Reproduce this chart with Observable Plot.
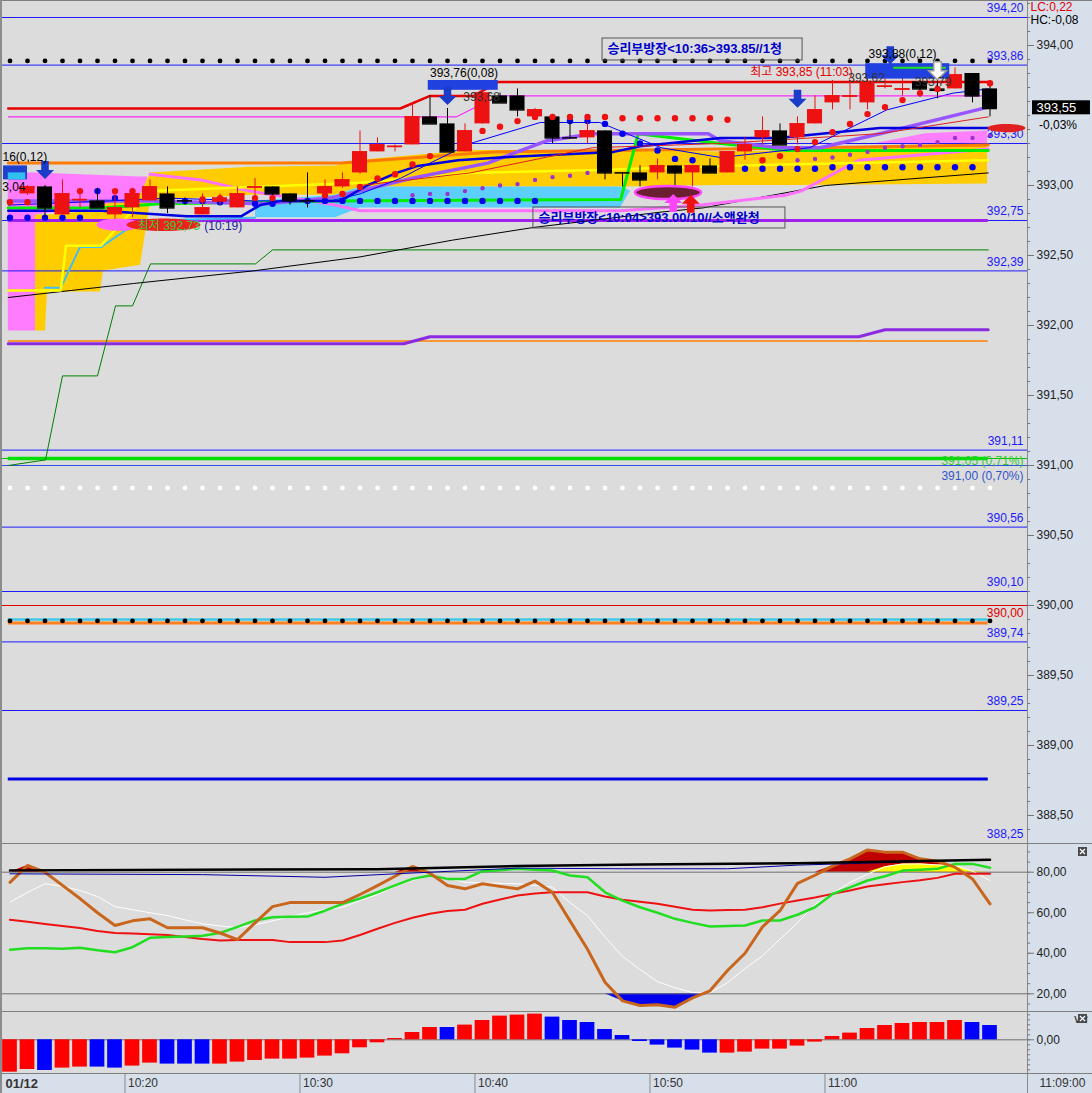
<!DOCTYPE html>
<html>
<head>
<meta charset="utf-8">
<script src="https://cdn.jsdelivr.net/npm/d3@7"></script>
<script src="https://cdn.jsdelivr.net/npm/@observablehq/plot@0.6"></script>
<style>
html,body{margin:0;padding:0;background:#dcdcdc;}
#wrap{position:relative;width:1092px;height:1093px;overflow:hidden;
 background:linear-gradient(to right,#dcdcdc 0px,#dcdcdc 1027px,#d7dfeb 1027px,#d7dfeb 1092px);
 font-family:"Liberation Sans","Noto Sans CJK KR",sans-serif;}
.panel{position:absolute;left:0;}
.hsep{position:absolute;left:0;width:1092px;height:1px;background:#7f7f7f;}
.vsep{position:absolute;top:0;width:2px;height:1093px;background:#8c8c8c;}
.xbtn{position:absolute;left:1078px;width:9px;height:9px;background:#4a4a4a;}
.xbtn svg{display:block}
</style>
</head>
<body>
<div id="wrap"></div>
<script>
const FONT = "Liberation Sans, Noto Sans CJK KR, sans-serif";
const fmt = v => v.toFixed(2).replace(".", ",");
const XD = [-27/17.5, 1000/17.5];
const K0 = -1.1, K1 = 54.9;

// ---------- candles, one per minute from 10:14 (index 0) to 11:09 (index 55)
const opens  = [392.94,392.99,392.79,392.89,392.89,392.79,392.84,392.89,392.94,392.89,392.79,392.88,392.84,392.98,392.99,392.94,392.89,392.94,392.99,393.09,393.24,393.27,393.29,393.49,393.44,393.24,393.44,393.64,393.64,393.49,393.49,393.34,393.34,393.39,393.09,393.09,393.09,393.14,393.09,393.14,393.09,393.24,393.34,393.39,393.34,393.44,393.59,393.63,393.59,393.70,393.68,393.74,393.69,393.69,393.80,393.69];
const highs  = [393.00,393.00,393.04,392.95,392.98,392.96,392.98,393.04,392.99,392.91,392.94,392.94,392.99,393.05,392.99,392.94,393.09,393.04,393.09,393.39,393.34,393.29,393.59,393.64,393.55,393.44,393.70,393.66,393.69,393.55,393.49,393.46,393.45,393.39,393.09,393.14,393.19,393.14,393.14,393.19,393.24,393.34,393.49,393.44,393.49,393.64,393.75,393.75,393.76,393.85,393.83,393.75,393.79,393.84,393.80,393.73];
const lows   = [392.93,392.77,392.79,392.84,392.84,392.73,392.77,392.89,392.80,392.86,392.79,392.86,392.84,392.89,392.88,392.86,392.84,392.93,392.98,393.08,393.24,393.24,393.29,393.44,393.24,393.24,393.44,393.59,393.49,393.47,393.30,393.33,393.30,393.04,392.99,392.99,393.04,392.99,392.99,393.09,393.09,393.18,393.29,393.29,393.29,393.44,393.54,393.54,393.54,393.69,393.64,393.63,393.62,393.69,393.59,393.49];
const closes = [392.99,392.84,392.94,392.90,392.84,392.84,392.94,392.99,392.84,392.89,392.84,392.91,392.94,392.99,392.94,392.89,392.89,392.99,393.04,393.24,393.29,393.28,393.49,393.44,393.24,393.39,393.66,393.59,393.54,393.54,393.34,393.34,393.39,393.09,393.09,393.04,393.14,393.09,393.14,393.09,393.24,393.29,393.39,393.29,393.44,393.54,393.64,393.64,393.74,393.71,393.69,393.69,393.68,393.79,393.64,393.55];

// ---------- price levels
const levelsBlue = [394.20,393.86,393.30,392.75,392.39,391.11,390.56,390.10,389.74,389.25];
const levelBottom = 388.25;
const levelRed = 390.00;
const levelGreen = 391.05;
const levelBlueThin = 391.00;
const dotRowBlack = [393.89, 389.89];
const dotRowWhite = 390.84;

// ---------- indicator lines in the price panel: [minute index, price]
const redStop    = [[-1.1,393.55],[21.3,393.55],[23.0,393.64],[25.5,393.64],[26.9,393.74],[54.9,393.74]];
const magentaStop= [[-1.1,393.49],[24.5,393.49],[26.9,393.64],[54.9,393.64]];
const blackMA    = [[-1.1,392.20],[6.06,392.30],[12.9,392.39],[19.0,392.49],[24.3,392.61],[28.9,392.70],[36.2,392.81],[38.6,392.84],[45.6,393.00],[54.9,393.09]];
const greenStep  = [[-1.1,391.00],[1.03,391.04],[2.0,391.64],[4.0,391.64],[5.03,392.14],[6.0,392.14],[7.03,392.44],[13.03,392.44],[14.0,392.54],[54.9,392.54]];
const purpleLow  = [[-1.1,391.87],[21.5,391.87],[23.0,391.92],[47.5,391.92],[49.0,391.97],[54.9,391.97]];
const thinBlueMA = [[-1.1,392.86],[4.7,392.89],[7.9,392.91],[13.0,392.89],[17.3,392.89],[19.0,392.94],[21.3,393.05],[23.0,393.16],[25.3,393.30],[29.3,393.45],[32.7,393.45],[36.2,393.27],[39.6,393.20],[44.7,393.27],[49.1,393.54],[52.9,393.66],[54.9,393.69]];
const thickBlueMA= [[-1.1,392.82],[4.2,392.82],[9.1,392.78],[12.2,392.78],[13.3,392.86],[14.5,392.89],[17.9,392.89],[19.4,393.00],[21.1,393.09],[22.3,393.14],[24.6,393.18],[27.0,393.20],[33.5,393.24],[35.0,393.28],[39.6,393.34],[42.9,393.34],[48.7,393.41],[54.9,393.41]];
const purpleMA   = [[-1.1,392.89],[7.0,392.89],[13.6,392.87],[17.3,392.91],[21.9,393.05],[26.3,393.16],[29.7,393.32],[32.3,393.37],[38.9,393.37],[39.6,393.32],[42.9,393.27],[45.3,393.27],[48.7,393.37],[54.9,393.56]];
const greenMA    = [[-1.1,392.84],[4.2,392.84],[7.6,392.87],[17.6,392.89],[33.9,392.90],[34.9,393.37],[39.6,393.30],[43.4,393.25],[54.9,393.25]];
const orangeMA   = [[-1.1,393.16],[17.9,393.16],[26.6,393.24],[39.6,393.26],[54.9,393.29]];
const yellowSpan = [[-1.1,392.25],[1.9,392.25],[2.2,392.57],[4.2,392.57],[7.0,392.96],[19.0,393.02],[25.3,393.09],[32.7,393.11],[39.6,393.14],[54.9,393.18]];
const cyanSpan   = [[1.0,392.27],[1.9,392.27],[3.0,392.56],[4.2,392.56],[5.6,392.68],[7.0,392.75],[13.0,392.77]];
const pinkMA     = [[7.0,393.08],[9.9,393.04],[12.7,392.96],[17.6,392.86],[19.0,392.82],[33.9,392.82],[38.5,392.86],[43.3,392.93],[44.2,392.96],[47.5,393.18],[54.9,393.26]];
const redThinMA  = [[19.0,393.00],[25.3,393.09],[32.3,393.27],[39.6,393.30],[48.7,393.37],[54.9,393.49]];
const otherH = [
  {p:391.89, c:"#ff8000", w:1.5},
  {p:388.76, c:"#0000e6", w:3},
  {p:392.75, c:"#a020f0", w:3},
  {p:389.90, c:"#40c8e8", w:2.5},
  {p:389.875,c:"#ff8020", w:3},
  {p:391.05, c:"#00dd00", w:3.5}
];

// ---------- cloud fills: [minute index, upper price, lower price]
const pinkLeft  = [[-1.1,393.09,391.96],[0.46,393.09,391.96],[0.51,393.09,392.79],[6.46,393.06,392.89],[6.86,393.06,393.05]];
const goldCloud = [[0.46,392.79,391.96],[1.03,392.79,391.96],[1.14,392.79,392.24],[4.17,392.82,392.24],[4.34,392.86,392.39],[6.46,392.93,392.43],[7.03,393.09,392.89],[12.74,393.13,392.93],[17.6,393.14,392.93],[19.03,393.18,392.99],[25.31,393.25,392.99],[33.89,393.25,392.99],[39.6,393.24,393.00],[44.17,393.25,393.00],[54.86,393.30,393.01]];
const cyanCloud = [[13.03,392.89,392.77],[17.6,392.93,392.77],[19.03,392.99,392.84],[33.89,392.99,392.84],[34.46,392.96,392.96]];
const pinkRight = [[48.46,393.30,393.30],[51.31,393.37,393.30],[54.86,393.39,393.30]];

// ---------- dot indicators [minute index, price]
const redDots = [[-1,392.88],[0,392.88],[3,392.96],[5,392.96],[6,392.96],[10,392.90],[11,392.91],[13,392.91],[14,392.91],[17,392.93],[18,392.94],[19,392.99],[20,393.05],[21,393.08],[22,393.15],[23,393.21],[26,393.39],[27,393.42],[28,393.46],[29,393.49],[30,393.49],[31,393.49],[32,393.49],[33,393.49],[34,393.48],[35,393.48],[36,393.48],[37,393.48],[38,393.48],[39,393.48],[40,393.47],[42,393.18],[43,393.21],[44,393.26],[45,393.31],[46,393.38],[47,393.44],[48,393.51],[49,393.56],[50,393.61],[51,393.66],[52,393.69],[55,393.73]];
const blueDots = [[-1,392.77],[0,392.77],[1,392.77],[2,392.77],[3,392.77],[4,392.96],[5,392.91],[9,392.89],[10,392.89],[11,392.88],[13,392.87],[14,392.87],[15,392.90],[16,392.89],[17,392.89],[18,392.89],[19,392.89],[20,392.89],[21,392.89],[22,392.89],[23,392.89],[24,392.89],[25,392.89],[26,392.89],[27,392.89],[28,392.89],[29,392.89],[31,393.46],[32,393.46],[33,393.44],[34,393.37],[35,393.30],[36,393.25],[37,393.19],[38,393.18],[41,393.12],[42,393.12],[43,393.12],[44,393.12],[45,393.12],[46,393.13],[47,393.13],[48,393.13],[49,393.13],[50,393.13],[51,393.13],[52,393.13],[53,393.13],[54,393.13]];
const purpleDots = [[22,392.93],[23,392.94],[24,392.94],[25,392.96],[26,392.98],[27,393.00],[28,393.01],[29,393.04],[30,393.06],[31,393.07],[32,393.09],[44,393.18],[45,393.19],[46,393.20],[47,393.22],[48,393.24],[49,393.27],[50,393.28],[51,393.29],[52,393.31],[53,393.34],[54,393.34],[55,393.36]];

// ---------- annotations
const notes = [
  {k:-1.43, p:393.20, t:"16(0,12)", c:"#000000"},
  {k:-1.45, p:392.99, t:"3,04", c:"#000000"},
  {k:23.0, p:393.80, t:"393,76(0,08)", c:"#000000"},
  {k:24.9, p:393.63, t:"393,68", c:"#333333"},
  {k:48.06, p:393.94, t:"393,88(0,12)", c:"#000000"},
  {k:41.3, p:393.81, t:"최고 393,85 (11:03)", c:"#e00000"},
  {k:46.9, p:393.77, t:"393,62", c:"#333333"},
  {k:50.7, p:393.74, t:"393,79", c:"#333333"},
  {k:6.3, p:392.71, t:"최저 392,73", c:"#33cc33"},
  {k:10.1, p:392.71, t:"(10:19)", c:"#2020a0"}
];
const msgBoxes = [
  {k1:32.86, k2:44.29, p1:394.05, p2:393.893, tk:33.14, tp:393.975, t:"승리부방장<10:36>393.85//1청"},
  {k1:28.91, k2:43.31, p1:392.843, p2:392.693, tk:29.2, tp:392.766, t:"승리부방장<10:04>393.00/10//소액완청"}
];
const markBoxes = [
  {k1:22.9, k2:26.9, p1:393.75, p2:393.68, f:"#2040e0"},
  {k1:47.9, k2:52.7, p1:393.87, p2:393.76, f:"#2040e0"},
  {k1:49.5, k2:52.5, p1:393.845, p2:393.83, f:"#20e020"},
  {k1:-1.37, k2:0.0, p1:393.14, p2:393.04, f:"#2040d0"},
  {k1:-1.1, k2:-0.1, p1:393.09, p2:393.04, f:"#30c0f0"}
];
const arrows = [
  {k:1, p:393.11, d:1, f:"#1a3cc8", s:"none"},
  {k:24, p:393.64, d:1, f:"#1a3cc8", s:"none"},
  {k:44, p:393.62, d:1, f:"#1a3cc8", s:"none"},
  {k:49.3, p:393.93, d:1, f:"#1a3cc8", s:"none"},
  {k:52, p:393.82, d:1, f:"#ffffff", s:"#9a9a9a"},
  {k:36.9, p:392.875, d:-1, f:"#ff44ff", s:"none"},
  {k:37.9, p:392.87, d:-1, f:"#ee1111", s:"none"}
];
const ellipses = [
  {k:5.2, p:392.72, r:22, a:0.28, f:"#ff66ff", s:"none"},
  {k:7.77, p:392.72, r:37, a:0.17, f:"#ee2020", s:"none"},
  {k:36.6, p:392.95, r:33, a:0.2, f:"#6a2030", s:"#ff44ff"},
  {k:55.94, p:393.41, r:19, a:0.22, f:"#e02020", s:"none"}
];
const cornerTexts = [
  {p:394.271, t:"LC:0,22", c:"#e00000"},
  {p:394.178, t:"HC:-0,08", c:"#000000"}
];

// ---------- oscillators, minute index -1 .. 55
const oscBrown = [75,83.3,80,73.5,67,60,53.7,56,57,52.6,52.6,52.6,50,46.7,55,63,65,65,65,65,69,73.4,78,82.8,79.5,73.4,71.8,74.3,73,71.8,75.6,70,56,42,25.7,16.5,14.2,14.6,13.4,18,21.5,31.5,40,53,61,74.5,78.5,83,86.6,91,89.9,89.9,86.6,85.4,82.5,76.7,64.4];
const oscWhite = [65.2,70,74.3,73,71,68,63,61.5,60,58.6,56.5,54.5,53.5,52.6,54,56,58,60,61.5,62.7,66,69,73,76,78.4,77,75,74.7,74.5,74.3,73.5,72.6,65,58.5,48,38.5,32,26,23,20.6,20.5,25.5,32.5,38.7,47,55,64,69.5,75,79,82.7,84,84.1,83.6,83.3,80.5,75.9];
const oscGreen = [41.7,42.5,42.5,42.2,42.7,41.5,40.5,43,47.6,48,48.3,48.6,50,53,56.2,57.8,58,58.1,61,64.4,67,70.1,73.5,76.7,78.4,76.7,76.7,80.5,81,81.7,81.2,80.8,78.4,77.5,70.1,66,62.7,60,57,55,53.2,53.4,53.7,56.2,56.2,59,62.7,69.3,72.5,75.9,78,80.8,81.2,81.7,84.1,84.1,82.2];
const oscRed   = [56.5,55.5,54.5,53.5,52.5,51,50,49.7,49.4,49,48,47,46.3,46.5,46.6,46.6,45.5,45.5,45.5,46.3,49,52.1,55,57.5,59.5,60.8,61.5,64.4,66.5,68.5,69.5,70.1,70.1,70.1,68,66.4,65.4,64.4,63,61.5,61.1,61.3,61.5,62.7,64.5,66,67.5,69.3,71,72.9,74,75.1,76,77.2,79.2,79.2,79.2];
const oscNavy  = [[-1,79.2],[10,78.8],[17,77.5],[22,79.6],[28,82],[34,81.7],[40,81.7],[44,83.5],[55,86.2]];
const oscBlack = [[-1,80.9],[20,81.5],[28,83],[35,83.8],[44,84.4],[55,86.1]];
const macdHist = [-0.0324,-0.0297,-0.0307,-0.0283,-0.0273,-0.0273,-0.0283,-0.0263,-0.0233,-0.0243,-0.0243,-0.0243,-0.0243,-0.0223,-0.0207,-0.0193,-0.0193,-0.0183,-0.0163,-0.014,-0.008,-0.003,0.0013,0.0073,0.0123,0.0123,0.0147,0.0193,0.0237,0.0247,0.0257,0.0227,0.0193,0.0173,0.0103,0.0043,-0.0017,-0.0053,-0.0083,-0.0103,-0.0133,-0.0133,-0.0123,-0.0093,-0.0093,-0.0063,-0.0023,0.0033,0.0067,0.0113,0.0143,0.0163,0.0173,0.0173,0.0193,0.0173,0.0143];
const macdColor = "rrbrrbbrrbbbrrrrrrrrrrrrrbrrrrrbbbbbbbbbbrrrrrrrrrrrrrrbb";

// ---------- time axis
const timeTicks = ["10:20","10:30","10:40","10:50","11:00"];
const dateLabel = "01/12";
const nowLabel = "11:09:00";

// ================= build =================
const candles = opens.map((o,i)=>({k:i,o,h:highs[i],l:lows[i],c:closes[i]}));
const cCol = d => d.c > d.o ? "#ee1111" : "#000000";
const osc = oscBrown.map((b,i)=>({k:i-1, brown:b, white:oscWhite[i], green:oscGreen[i], red:oscRed[i]}));
const macd = macdHist.map((v,i)=>({k:i-1, v, c: macdColor[i]==="r" ? "#ff0000" : "#0000ff"}));
const dotK = oscBrown.map((_,i)=>i-1);
const lastClose = closes[closes.length-1];

function arrowSym(dir){return {draw(ctx,size){const r=Math.sqrt(size/Math.PI),w=r*0.42;
  ctx.moveTo(-w,-r*dir);ctx.lineTo(w,-r*dir);ctx.lineTo(w,0);ctx.lineTo(r,0);ctx.lineTo(0,r*dir);ctx.lineTo(-r,0);ctx.lineTo(-w,0);ctx.closePath();}};}
function ellSym(a){return {draw(ctx,size){const rx=Math.sqrt(size/Math.PI),ry=rx*a,q=0.5523;
  ctx.moveTo(rx,0);ctx.bezierCurveTo(rx,ry*q,rx*q,ry,0,ry);ctx.bezierCurveTo(-rx*q,ry,-rx,ry*q,-rx,0);
  ctx.bezierCurveTo(-rx,-ry*q,-rx*q,-ry,0,-ry);ctx.bezierCurveTo(rx*q,-ry,rx,-ry*q,rx,0);ctx.closePath();}};}

const P = d => d[0], Q = d => d[1];
const line = (data, stroke, w) => Plot.line(data, {x:P, y:Q, stroke, strokeWidth:w});
const area = (data, fill) => Plot.areaY(data, {x:P, y1:d=>d[2], y2:d=>d[1], fill});
const minorTicks = (vals) => Plot.ruleY(vals, {x1:XD[1], x2:XD[1]+0.18, stroke:"#777"});
const base = {width:1092, marginLeft:0, marginRight:65, marginTop:0, marginBottom:0,
  style:{background:"transparent", overflow:"hidden", fontFamily:FONT},
  x:{domain:XD, axis:null}, color:{type:"identity"}};

// the 393,50 tick label sits under the current-price tag in the reference, so it is not printed
const priceTicks = d3.range(388.5, 394.01, 0.5).filter(t => Math.abs(t - 393.5) > 1e-6);
const priceMinor = d3.range(388.3, 394.31, 0.1);
const LV = "#1a1aff";

const pricePlot = Plot.plot({...base, height:843,
  y:{domain:[388.3, 394.3214], axis:null},
  marks:[
    area(pinkLeft, "#ff7cff"),
    area(goldCloud, "#ffcc00"),
    area(cyanCloud, "#5ccfff"),
    area(pinkRight, "#ff80ff"),
    Plot.ruleY(levelsBlue, {stroke:LV, strokeWidth:1}),
    Plot.ruleY([levelBlueThin], {stroke:"#3050e0", strokeWidth:1}),
    Plot.ruleY([levelRed], {stroke:"#e00000", strokeWidth:1}),
    Plot.ruleY([levelGreen], {stroke:"#00c000", strokeWidth:1}),
    ...otherH.map(h => Plot.ruleY([h.p], {x1:K0, x2:K1, stroke:h.c, strokeWidth:h.w})),
    line(purpleLow, "#8a2be2", 3),
    line(greenStep, "#008000", 1),
    line(blackMA, "#000000", 1),
    line(pinkMA, "#ff70ff", 3),
    line(cyanSpan, "#40c0f0", 2),
    line(yellowSpan, "#ffff00", 2.5),
    line(orangeMA, "#ff7a00", 3),
    line(greenMA, "#00ee00", 3),
    line(purpleMA, "#9955ff", 3.5),
    line(thickBlueMA, "#0000e0", 2.5),
    line(redThinMA, "#e02020", 1),
    line(thinBlueMA, "#0000ff", 1),
    line(redStop, "#e60000", 2.5),
    line(magentaStop, "#ff00ff", 1),
    Plot.dot(purpleDots, {x:P, y:Q, r:2.2, fill:"#9933cc"}),
    Plot.dot(blueDots, {x:P, y:Q, r:3.2, fill:"#0000ee"}),
    Plot.ruleX(candles, {x:"k", y1:"l", y2:"h", stroke:cCol, strokeWidth:1}),
    Plot.rect(candles, {x1:d=>d.k-0.43, x2:d=>d.k+0.43, y1:"o", y2:"c", fill:cCol}),
    Plot.ruleY(candles, {y:"c", x1:d=>d.k-0.43, x2:d=>d.k+0.43, stroke:cCol, strokeWidth:1.5}),
    Plot.dot(redDots, {x:P, y:Q, r:3.2, fill:"#ee1111"}),
    ...dotRowBlack.map(p => Plot.dot(dotK, {x:d=>d, y:p, r:2.4, fill:"#000"})),
    Plot.dot(dotK, {x:d=>d, y:dotRowWhite, r:2.4, fill:"#ffffff"}),
    Plot.text(levelsBlue, {x:XD[1], y:d=>d, dx:-4, dy:-9, text:fmt, textAnchor:"end", fill:LV, fontSize:12}),
    Plot.text([levelBottom], {x:XD[1], y:d=>d, dx:-4, dy:-16, text:fmt, textAnchor:"end", fill:LV, fontSize:12}),
    Plot.text([levelRed], {x:XD[1], y:d=>d, dx:-4, dy:8, text:fmt, textAnchor:"end", fill:"#e00000", fontSize:12}),
    Plot.text([levelGreen], {x:XD[1], y:d=>d, dx:-4, dy:3, text:d=>fmt(d)+" (0,71%)", textAnchor:"end", fill:"#33cc33", fontSize:12}),
    Plot.text([levelBlueThin], {x:XD[1], y:d=>d, dx:-4, dy:11, text:d=>fmt(d)+" (0,70%)", textAnchor:"end", fill:"#3355cc", fontSize:12}),
    Plot.rect(markBoxes, {x1:"k1", x2:"k2", y1:"p1", y2:"p2", fill:"f"}),
    Plot.rect(msgBoxes, {x1:"k1", x2:"k2", y1:"p1", y2:"p2", fill:"none", stroke:"#555555", strokeWidth:1}),
    Plot.text(msgBoxes, {x:"tk", y:"tp", text:"t", textAnchor:"start", fill:"#0000cc", fontSize:13, fontWeight:"bold"}),
    ...ellipses.map(e => Plot.dot([e], {x:"k", y:"p", r:e.r, symbol:ellSym(e.a), fill:e.f, stroke:e.s, strokeWidth:2.5})),
    ...arrows.map(a => Plot.dot([a], {x:"k", y:"p", r:9, symbol:arrowSym(a.d), fill:a.f, stroke:a.s})),
    Plot.text(notes, {x:"k", y:"p", text:"t", fill:"c", textAnchor:"start", fontSize:12}),
    Plot.ruleX([XD[1]], {stroke:"#8a8a8a"}),
    minorTicks(priceMinor),
    Plot.axisY(priceTicks, {anchor:"right", tickSize:6, tickPadding:3, tickFormat:fmt, fontSize:12, stroke:"#777", fill:"#222"}),
    Plot.text(cornerTexts, {x:XD[1], y:"p", dx:3, text:"t", textAnchor:"start", fill:"c", fontSize:12}),
    Plot.rect([{k1:57.43, k2:60.74, p1:393.605, p2:393.505}], {x1:"k1", x2:"k2", y1:"p1", y2:"p2", fill:"#000"}),
    Plot.text([lastClose], {x:57.66, y:393.557, text:fmt, textAnchor:"start", fill:"#fff", fontSize:13}),
    Plot.text(["-0,03%"], {x:57.8, y:393.43, text:d=>d, textAnchor:"start", fill:"#000", fontSize:12})
  ]});

const oscPlot = Plot.plot({...base, height:168,
  y:{domain:[11.27, 94.16], axis:null},
  marks:[
    Plot.areaY(osc, {x:"k", y1:d=>Math.min(d.brown,20), y2:20, fill:"#0000ee"}),
    Plot.areaY(osc, {x:"k", y1:80, y2:d=>Math.max(d.brown,80), fill:"#c00000"}),
    Plot.areaY(osc, {x:"k", y1:80, y2:d=>Math.max(d.white,80), fill:"#ffff00"}),
    Plot.ruleY([20,80], {stroke:"#707070"}),
    Plot.line(osc, {x:"k", y:"white", stroke:"#ffffff", strokeWidth:1}),
    Plot.line(osc, {x:"k", y:"red", stroke:"#ee1111", strokeWidth:2}),
    Plot.line(osc, {x:"k", y:"green", stroke:"#22dd22", strokeWidth:2.5}),
    Plot.line(osc, {x:"k", y:"brown", stroke:"#c8661e", strokeWidth:3}),
    Plot.line(oscNavy, {x:P, y:Q, stroke:"#0000a0", strokeWidth:1}),
    Plot.line(oscBlack, {x:P, y:Q, stroke:"#000000", strokeWidth:2.5}),
    Plot.ruleX([XD[1]], {stroke:"#8a8a8a"}),
    minorTicks(d3.range(15, 95, 5)),
    Plot.axisY([20,40,60,80], {anchor:"right", tickSize:6, tickPadding:3, tickFormat:fmt, fontSize:12, stroke:"#777", fill:"#222"})
  ]});

const macdPlot = Plot.plot({...base, height:62,
  y:{domain:[-0.0337, 0.0283], axis:null},
  marks:[
    Plot.ruleY([0], {stroke:"#707070"}),
    Plot.rectY(macd, {x1:d=>d.k-0.42, x2:d=>d.k+0.42, y:"v", fill:"c"}),
    Plot.ruleX([XD[1]], {stroke:"#8a8a8a"}),
    minorTicks(d3.range(-0.03, 0.03, 0.005)),
    Plot.axisY([0], {anchor:"right", tickSize:6, tickPadding:3, tickFormat:fmt, fontSize:12, stroke:"#777", fill:"#222"})
  ]});

const tickData = timeTicks.map(t => {const [h,m] = t.split(":").map(Number); return {t, k:(h*60+m)-(10*60+14)-0.43};});
const xPlot = Plot.plot({...base, height:20,
  style:{background:"#d7dfeb", overflow:"hidden", fontFamily:FONT},
  y:{domain:[0,1], axis:null},
  marks:[
    Plot.ruleX(tickData, {x:"k", stroke:"#8a8a8a"}),
    Plot.ruleX([XD[1]], {stroke:"#8a8a8a"}),
    Plot.text(tickData, {x:"k", y:0.5, dx:3, text:"t", textAnchor:"start", fill:"#333", fontSize:12}),
    Plot.text([dateLabel], {x:XD[0], y:0.5, dx:5, text:d=>d, textAnchor:"start", fill:"#333", fontSize:13, fontWeight:"bold"}),
    Plot.text([nowLabel], {x:XD[1], y:0.5, dx:12, text:d=>d, textAnchor:"start", fill:"#333", fontSize:12})
  ]});

const wrap = document.getElementById("wrap");
[[pricePlot,0],[oscPlot,843],[macdPlot,1011],[xPlot,1073]].forEach(([p,top])=>{
  p.classList.add("panel"); p.style.top = top+"px"; wrap.appendChild(p);
});
[0,843,1011,1073].forEach(t=>{const d=document.createElement("div"); d.className="hsep"; d.style.top=t+"px"; wrap.appendChild(d);});
const v=document.createElement("div"); v.className="vsep"; v.style.left="0px"; wrap.appendChild(v);
[847,1014].forEach(t=>{const b=document.createElement("div"); b.className="xbtn"; b.style.top=t+"px";
  b.innerHTML='<svg width="9" height="9"><path d="M2 2L7 7M7 2L2 7" stroke="#fff" stroke-width="1.2"/></svg>'; wrap.appendChild(b);});
</script>
</body>
</html>
